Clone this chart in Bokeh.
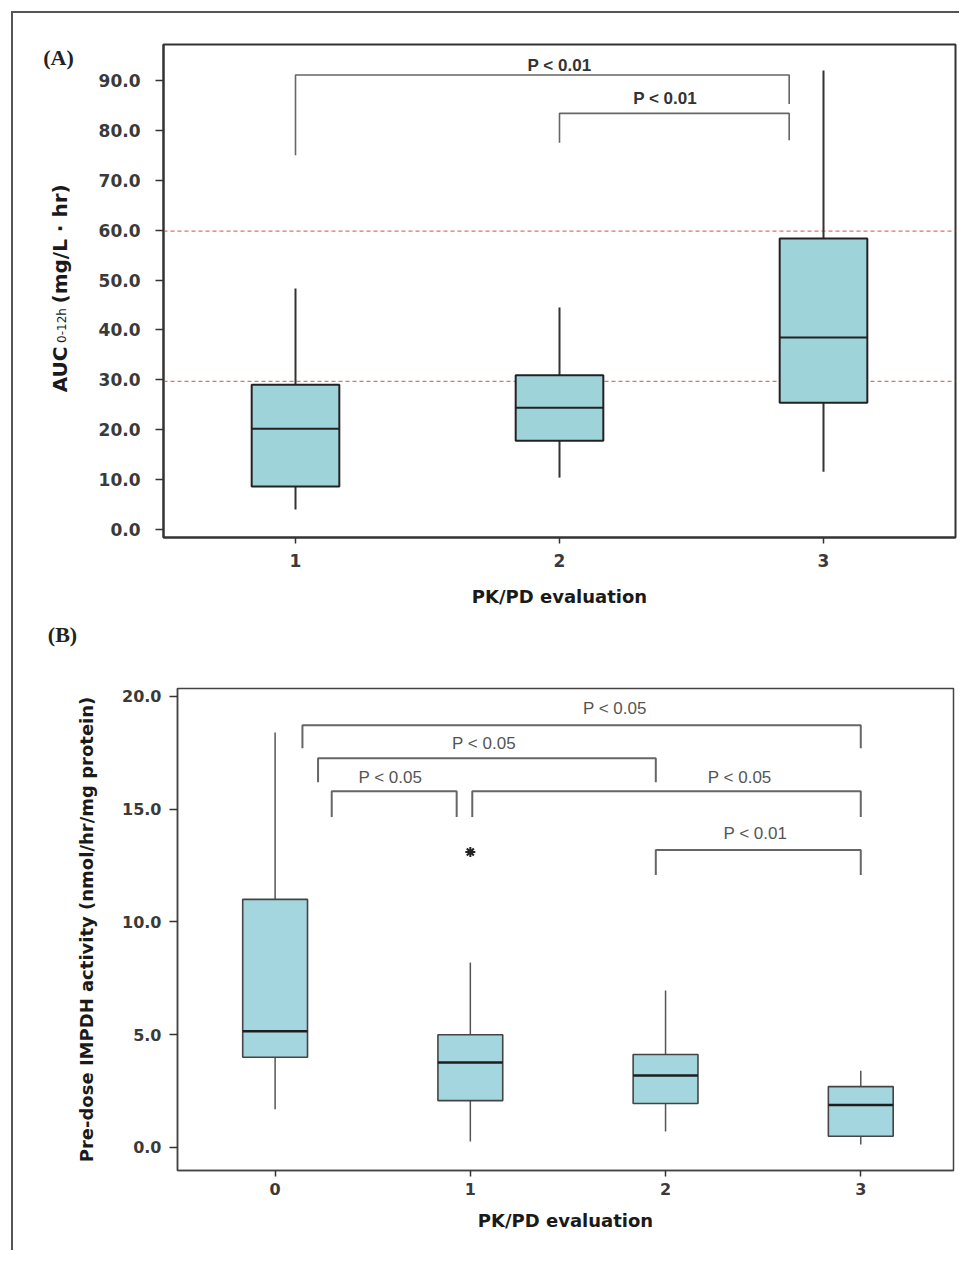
import numpy as np
from bokeh.plotting import figure
from bokeh.models import Range1d, FixedTicker, Span, NumeralTickFormatter
from bokeh.layouts import row
from bokeh.core.properties import value
from bokeh.embed import file_html
from bokeh.resources import INLINE

# ---------------- Panel A data ----------------
A_groups = [1, 2, 3]
A_low = [4.0, 10.4, 11.6]
A_q1 = [8.6, 17.8, 25.4]
A_med = [20.2, 24.4, 38.5]
A_q3 = [29.0, 30.9, 58.3]
A_high = [48.3, 44.5, 92.0]
A_ref_lines = [29.7, 59.8]
A_yticks = [0, 10, 20, 30, 40, 50, 60, 70, 80, 90]

A_br_left = [1.0, 2.0]
A_br_right = [2.87, 2.87]
A_br_top = [91.1, 83.4]
A_br_left_end = [75.0, 77.5]
A_br_right_end = [85.3, 78.0]
A_br_text = ["P < 0.01", "P < 0.01"]
A_br_text_x = [2.0, 2.4]
A_br_text_y = [93.0, 86.3]

# ---------------- Panel B data ----------------
B_groups = [0, 1, 2, 3]
B_low = [1.7, 0.27, 0.71, 0.13]
B_q1 = [4.0, 2.08, 1.95, 0.5]
B_med = [5.15, 3.77, 3.19, 1.88]
B_q3 = [11.0, 5.0, 4.12, 2.7]
B_high = [18.4, 8.2, 6.96, 3.4]
B_out_x = [1]
B_out_y = [13.1]
B_yticks = [0, 5, 10, 15, 20]

B_br_left = [0.14, 0.22, 0.29, 1.01, 1.95]
B_br_right = [3.0, 1.95, 0.93, 3.0, 3.0]
B_br_top = [18.72, 17.26, 15.80, 15.80, 13.19]
B_br_end = [17.70, 16.19, 14.65, 14.65, 12.08]
B_br_text = ["P < 0.05", "P < 0.05", "P < 0.05", "P < 0.05", "P < 0.01"]
B_br_text_x = [1.74, 1.07, 0.59, 2.38, 2.46]
B_br_text_y = [19.47, 17.9, 16.4, 16.4, 13.9]

FILL = "#9ed3da"
HALF = 0.166
FRAME_CSS = "2px solid #555555"


def style_axes(p, tick_size, tick_out, y_standoff, x_standoff):
    p.xgrid.visible = False
    p.ygrid.visible = False
    p.background_fill_color = "white"
    p.border_fill_color = "white"
    for ax in (p.xaxis[0], p.yaxis[0]):
        ax.axis_line_color = "#333333"
        ax.axis_line_width = 2
        ax.major_tick_line_color = "#333333"
        ax.major_tick_line_width = 1.5
        ax.major_tick_in = 0
        ax.minor_tick_line_color = None
        ax.major_label_text_font = "DejaVu Sans"
        ax.major_label_text_font_style = "bold"
        ax.major_label_text_font_size = tick_size
        ax.major_label_text_color = "#3a3a3a"
        ax.axis_label_text_font = "DejaVu Sans"
        ax.axis_label_text_font_style = "bold"
        ax.axis_label_text_font_size = "18px"
        ax.axis_label_text_color = "#1a1a1a"
    p.yaxis[0].major_tick_out = tick_out
    p.xaxis[0].major_tick_out = tick_out - 2
    p.yaxis[0].major_label_standoff = y_standoff
    p.xaxis[0].major_label_standoff = x_standoff
    p.yaxis[0].formatter = NumeralTickFormatter(format="0.0")


def text_only_figure(fw, fh, xr, yr, **kw):
    f = figure(frame_width=fw, frame_height=fh, x_range=xr, y_range=yr,
               x_axis_type=None, y_axis_type=None,
               output_backend="svg", toolbar_location=None, **kw)
    f.outline_line_color = None
    f.background_fill_color = "white"
    f.border_fill_color = "white"
    return f


# ================= Panel A =================
pA = figure(frame_width=792, frame_height=493,
            x_range=Range1d(0.5, 3.5), y_range=Range1d(-1.6, 97.2),
            output_backend="svg", toolbar_location=None,
            min_border_left=70, min_border_right=4,
            min_border_top=31, min_border_bottom=83)
style_axes(pA, "17px", 8, 15, 10)
pA.outline_line_color = "#333333"
pA.outline_line_width = 2
pA.outline_line_alpha = 1
pA.yaxis[0].ticker = FixedTicker(ticks=A_yticks)
pA.xaxis[0].ticker = FixedTicker(ticks=A_groups)
pA.xaxis[0].axis_label = "PK/PD evaluation"
pA.xaxis[0].axis_label_standoff = 16

for v in A_ref_lines:
    pA.add_layout(Span(location=v, dimension="width", line_color="#e4706a",
                       line_dash="4 3", line_width=1.2, level="underlay"))

ga = np.array(A_groups, dtype=float)
pA.segment(x0=ga, y0=A_low, x1=ga, y1=A_high, line_color="#333333", line_width=2)
pA.quad(left=ga - HALF, right=ga + HALF, bottom=A_q1, top=A_q3,
        fill_color=FILL, line_color="#222222", line_width=2)
pA.segment(x0=ga - HALF, y0=A_med, x1=ga + HALF, y1=A_med, line_color="#222222", line_width=2)

xsA = [[l, l, r, r] for l, r in zip(A_br_left, A_br_right)]
ysA = [[lb, t, t, rb] for lb, t, rb in zip(A_br_left_end, A_br_top, A_br_right_end)]
pA.multi_line(xs=xsA, ys=ysA, line_color="#666666", line_width=1.6)
pA.text(x=A_br_text_x, y=A_br_text_y, text=A_br_text,
        text_font=value("Liberation Sans"), text_font_size=value("17px"),
        text_font_style="bold", text_color="#333333",
        text_align="center", text_baseline="middle")

# companion strip holding the panel-A y-axis title (with small "0-12h") and "(A)"
pLab = text_only_figure(80, 493, Range1d(0, 80), pA.y_range,
                        min_border_left=0, min_border_right=0,
                        min_border_top=31, min_border_bottom=83)
lab_kw = dict(angle=np.pi / 2, text_align="left", text_baseline="alphabetic",
              text_font=value("DejaVu Sans"), text_color="#1a1a1a")
pLab.text(x=[46], y=[27.5], text=["AUC"], text_font_size=value("20px"),
          text_font_style="bold", **lab_kw)
pLab.text(x=[48], y=[37.4], text=["0-12h"], text_font_size=value("12px"),
          text_font_style="normal", **lab_kw)
pLab.text(x=[46], y=[45.3], text=["(mg/L \u00b7 hr)"], text_font_size=value("20px"),
          text_font_style="bold", **lab_kw)
pLab.text(x=[45], y=[94.6], text=["(A)"], text_font=value("Liberation Serif"),
          text_font_size=value("22px"), text_font_style="bold", text_color="#222222",
          text_align="center", text_baseline="middle")

# strip between the panels holding "(B)"
pMid = text_only_figure(100, 30, Range1d(0, 100), Range1d(0, 30),
                        min_border_left=0, min_border_right=0,
                        min_border_top=0, min_border_bottom=0,
                        styles={"margin-left": "11px", "border-left": FRAME_CSS})
pMid.text(x=[49], y=[16], text=["(B)"], text_font=value("Liberation Serif"),
          text_font_size=value("22px"), text_font_style="bold", text_color="#222222",
          text_align="center", text_baseline="middle")

# ================= Panel B =================
pB = figure(frame_width=776, frame_height=482,
            x_range=Range1d(-0.5, 3.475), y_range=Range1d(-1.02, 20.35),
            output_backend="svg", toolbar_location=None,
            min_border_left=164, min_border_right=6,
            min_border_top=38, min_border_bottom=80,
            styles={"margin-left": "11px", "border-left": FRAME_CSS})
style_axes(pB, "16px", 8, 8, 6)
pB.outline_line_color = "#444444"
pB.outline_line_width = 1.5
pB.outline_line_alpha = 1
pB.yaxis[0].ticker = FixedTicker(ticks=B_yticks)
pB.xaxis[0].ticker = FixedTicker(ticks=B_groups)
pB.yaxis[0].axis_label = "Pre-dose IMPDH activity (nmol/hr/mg protein)"
pB.yaxis[0].axis_label_standoff = 22
pB.xaxis[0].axis_label = "PK/PD evaluation"
pB.xaxis[0].axis_label_standoff = 12
for ax in (pB.xaxis[0], pB.yaxis[0]):
    ax.axis_line_color = "#444444"
    ax.axis_line_width = 1.5

gb = np.array(B_groups, dtype=float)
pB.segment(x0=gb, y0=B_low, x1=gb, y1=B_high, line_color="#555555", line_width=1.5)
pB.quad(left=gb - HALF, right=gb + HALF, bottom=B_q1, top=B_q3,
        fill_color="#a3d6de", line_color="#444444", line_width=1.6)
pB.segment(x0=gb - HALF, y0=B_med, x1=gb + HALF, y1=B_med, line_color="#1e1e1e", line_width=2.5)
pB.scatter(x=B_out_x, y=B_out_y, marker="asterisk", size=10,
           line_color="#222222", line_width=2)

xsB = [[l, l, r, r] for l, r in zip(B_br_left, B_br_right)]
ysB = [[e, t, t, e] for e, t in zip(B_br_end, B_br_top)]
pB.multi_line(xs=xsB, ys=ysB, line_color="#666666", line_width=2)
pB.text(x=B_br_text_x, y=B_br_text_y, text=B_br_text,
        text_font=value("Liberation Sans"), text_font_size=value("17px"),
        text_color="#555555", text_align="center", text_baseline="middle")

rowA = row(pLab, pA, styles={"margin-left": "11px", "margin-top": "11px",
                             "border-left": FRAME_CSS, "border-top": FRAME_CSS})

open("out.html", "w").write(file_html([rowA, pMid, pB], INLINE))
